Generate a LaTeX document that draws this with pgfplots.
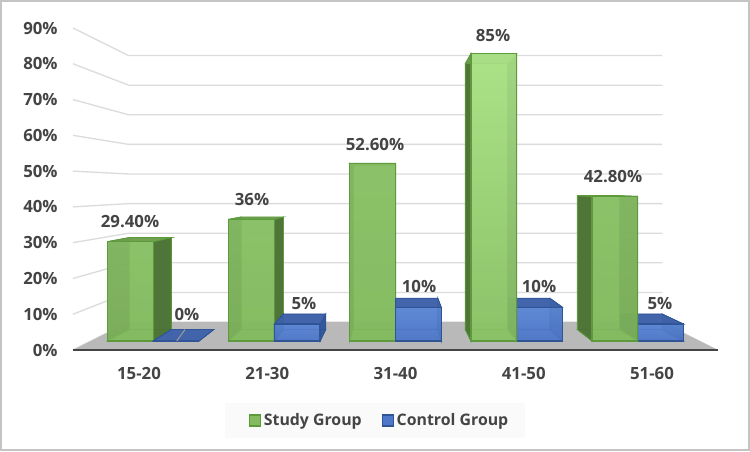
\documentclass[border=0pt]{standalone}
\usepackage{pgfplots}
\pgfplotsset{compat=1.18}
\usepackage{fontspec}
\setmainfont{Open Sans}
\definecolor{txt}{HTML}{444444}
\definecolor{gridc}{HTML}{DCDCDC}
\definecolor{floorc}{HTML}{B9B9B9}
\definecolor{frame}{HTML}{C4C4C4}
\definecolor{legbg}{HTML}{FAFAFA}
\definecolor{gedge}{HTML}{5C9A3C}
\definecolor{bedge}{HTML}{2F5597}
\definecolor{gside}{HTML}{4A6E34}
\definecolor{gtop}{HTML}{6FA04E}
\definecolor{bside}{HTML}{2F5597}
\definecolor{btop}{HTML}{3F62A8}
\definecolor{gback}{HTML}{7FB65A}
\definecolor{bback}{HTML}{4F78C4}
\definecolor{gfa}{HTML}{8CC469}
\definecolor{gfb}{HTML}{84BB60}
\definecolor{gla}{HTML}{B4EC90}
\definecolor{glb}{HTML}{8CC368}
\definecolor{bfa}{HTML}{5F8AD8}
\definecolor{bfb}{HTML}{4F78C8}
% depth factors: 1 front of floor, .8275 back of floor, .9445 / .874 front and back of the bars
\newcommand\face[5]{%
  \addplot[forget plot,mark=none,#1] table[row sep=\\,
    x expr={2+(\thisrow{U}-2)*\thisrow{s}},
    y expr={45.34+(\thisrow{v}-45.34)*\thisrow{s}}]
    {U s v\\ #2\\ #3\\ #4\\ #5\\} --cycle;
}
\newcommand\gridl[1]{%
  \addplot[forget plot,mark=none,draw=gridc,line width=1pt] table[row sep=\\,
    x expr={2+(\thisrow{U}-2)*\thisrow{s}},
    y expr={45.34+(\thisrow{v}-45.34)*\thisrow{s}}]
    {U s v\\ -0.5146 1 #1\\ -0.5146 .8275 #1\\ 4.5146 .8275 #1\\};
}
% \barr{U1}{U2}{value}{edge}{side}{top}{back}{front top}{front bottom}
\newcommand\barr[9]{%
  \face{fill=#7,fill opacity=.9,draw=#4,line width=.6pt}{#1 .874 0}{#2 .874 0}{#2 .874 #3}{#1 .874 #3}
  \face{fill=#7,fill opacity=.9,draw=#4,line width=.6pt}{#1 .9445 0}{#2 .9445 0}{#2 .874 0}{#1 .874 0}
  \face{fill=#5,fill opacity=.9,draw=#4,line width=.6pt}{#1 .9445 0}{#1 .874 0}{#1 .874 #3}{#1 .9445 #3}
  \face{fill=#5,fill opacity=.9,draw=#4,line width=.6pt}{#2 .9445 0}{#2 .874 0}{#2 .874 #3}{#2 .9445 #3}
  \face{fill=#6,fill opacity=.9,draw=#4,line width=.6pt}{#1 .9445 #3}{#2 .9445 #3}{#2 .874 #3}{#1 .874 #3}
  \face{top color=#8,bottom color=#9,fill opacity=.8,draw=#4,line width=1pt}{#1 .9445 0}{#2 .9445 0}{#2 .9445 #3}{#1 .9445 #3}
}
\newcommand\study[4]{\barr{#1-.3774}{#1}{#2}{gedge}{gside}{gtop}{gback}{#3}{#4}}
\newcommand\control[2]{\barr{#1}{#1+.3774}{#2}{bedge}{bside}{btop}{bback}{bfa}{bfb}}
\begin{document}
\begin{tikzpicture}
\fill[white] (0,0) rectangle (562.5pt,338.25pt);
\fill[legbg] (168.75pt,9.75pt) rectangle (393.75pt,36pt);
\begin{axis}[
  at={(54.75pt,75.75pt)},anchor=south west,
  scale only axis,width=483.75pt,height=241.5pt,
  xmin=-0.5146,xmax=4.5146,ymin=0,ymax=90,
  clip=false,
  axis line style={draw=none},
  major tick length=0pt,
  xtick={0,1,2,3,4},
  xticklabels={15-20,21-30,31-40,41-50,51-60},
  ytick={0,10,...,90},
  yticklabel={\pgfmathprintnumber{\tick}\%},
  /pgf/number format/assume math mode=true,
  tick label style={font=\bfseries\fontsize{12.6}{14}\selectfont,text=txt},
  yticklabel shift=8pt,
  xticklabel shift=9.5pt,
  legend style={at={(0.4757,-0.2189)},anchor=center,fill=none,draw=none,
    legend columns=2,font=\bfseries\fontsize{11.9}{13}\selectfont,text=txt,
    inner xsep=16pt,inner ysep=5pt,
    /tikz/every even column/.append style={column sep=12.8pt}},
  legend cell align=left,
  legend image code/.code={\draw[#1] (0pt,-4.2pt) rectangle (8.4pt,4.2pt);},
]
\addlegendimage{fill=gfb,draw=gedge,line width=1pt}
\addlegendentry{Study Group}
\addlegendimage{fill=bfb,draw=bedge,line width=1pt}
\addlegendentry{Control Group}
% wall lines
\gridl{0}\gridl{10}\gridl{20}\gridl{30}\gridl{40}\gridl{50}\gridl{60}\gridl{70}\gridl{80}\gridl{90}
% floor
\face{fill=floorc,draw=none}{-0.5146 1 0}{4.5146 1 0}{4.5146 .8275 0}{-0.5146 .8275 0}
% bars, the one further from the centre first
\study{0}{29.4}{gfa}{gfb}
\control{0}{0}
\addplot[forget plot,mark=none,draw=gray!80,line width=.8pt] table[row sep=\\,
    x expr={2+(\thisrow{U}-2)*\thisrow{s}},
    y expr={45.34+(\thisrow{v}-45.34)*\thisrow{s}}]
    {U s v\\ .194 .9445 0\\ .122 .874 0\\};
\study{1}{36}{gfa}{gfb}
\control{1}{5}
\study{2}{52.6}{gfa}{gfb}
\control{2}{10}
\control{3}{10}
\study{3}{85}{gla}{glb}
\control{4}{5}
\study{4}{42.8}{gfa}{gfb}
% axis line
\addplot[forget plot,mark=none,draw=txt,line width=1.7pt] coordinates {(-0.5146,0) (4.5146,0)};
% data labels: position in picture pixels
\addplot[forget plot,mark=none,draw=none,point meta=explicit symbolic,
  nodes near coords,nodes near coords align={anchor=center},
  every node near coord/.append style={font=\bfseries\fontsize{12.6}{14}\selectfont,text=txt,inner sep=0pt}]
  table[row sep=\\,meta=lab,x expr={(\thisrow{px}-139)/128.25},y expr={(350-\thisrow{py})/3.58}]
  {px py lab\\
   130 221 29.40\%\\ 187 314 0\%\\ 252 199 36\%\\ 304 303 5\%\\ 375 144 52.60\%\\
   419 286 10\%\\ 493 35 85\%\\ 539 286 10\%\\ 613 176 42.80\%\\ 660 303 5\%\\};
\end{axis}
\draw[frame,line width=1.5pt] (0.75pt,0.75pt) rectangle (561.75pt,337.5pt);
\end{tikzpicture}
\end{document}
